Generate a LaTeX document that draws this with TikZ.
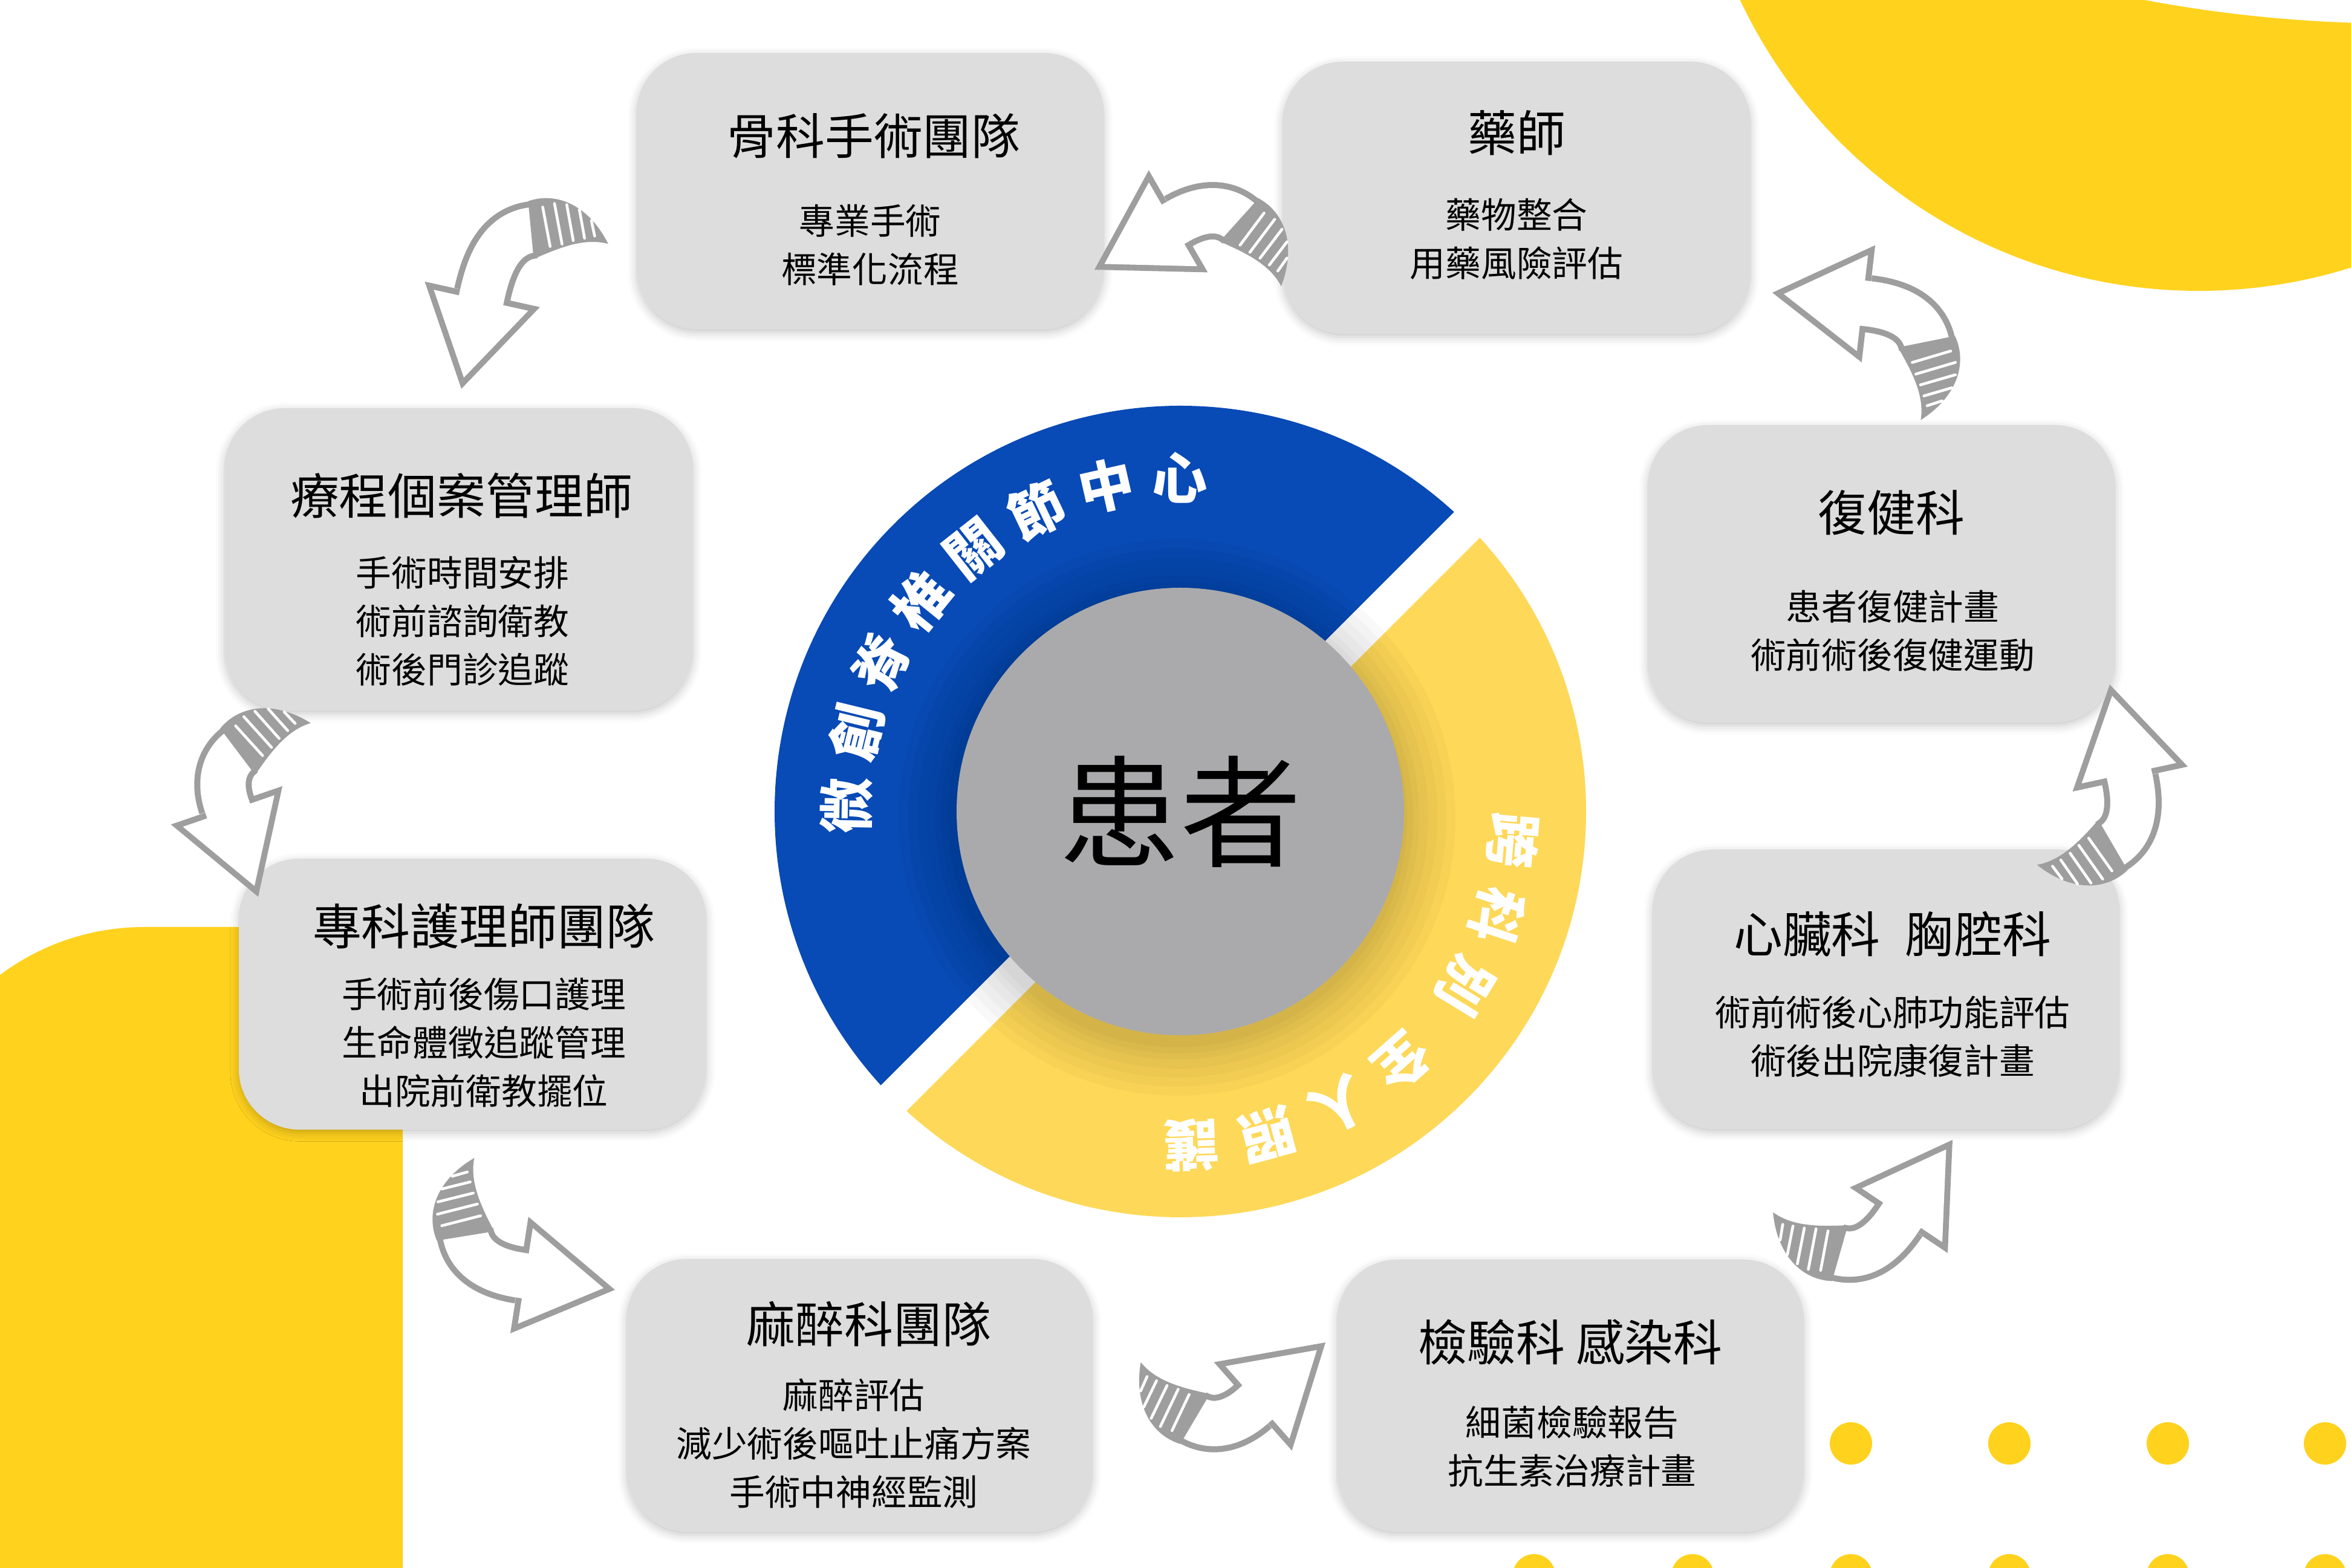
\documentclass[tikz,border=0pt]{standalone}
\usepackage{fontspec}
\newfontfamily\cjk{Noto Sans CJK TC}
\usetikzlibrary{calc,shadows.blur}

\definecolor{cardgray}{RGB}{221,221,221}
\definecolor{arrowgray}{RGB}{158,158,158}
\definecolor{ringblue}{RGB}{8,74,182}
\definecolor{ringyellow}{RGB}{254,216,88}
\definecolor{bgyellow}{RGB}{255,210,30}
\definecolor{hubgray}{RGB}{170,170,172}

\tikzset{
  card/.style={fill=cardgray, rounded corners=1cm, inner sep=0pt,
    blur shadow={shadow xshift=0pt, shadow yshift=-1.5pt, shadow blur radius=4pt, shadow opacity=22}},
  cardtitle/.style={font=\cjk\fontsize{23}{27}\selectfont, inner sep=0pt},
  cardbody/.style={font=\cjk\fontsize{16.7}{22.8}\selectfont, align=center, inner sep=0pt},
  ringchar/.style={font=\cjk\bfseries\fontsize{26}{28}\selectfont, text=white, inner sep=0pt},
  arrowbody/.style={draw=arrowgray, line width=0.95cm},
  arrowhollow/.style={draw=white, line width=0.75cm}
}

% hand drawn arrow: tail, tip, out angle, in angle
\newcommand{\sketcharrow}[4]{%
  \draw[arrowbody] (#1) to[out=#3, in=#4] ($(#2)+(#4:1.6)$);
  \fill[arrowgray, shift={(#2)}, rotate=#4] (0,0) -- (1.6,0.975) -- (1.6,-0.975) -- cycle;
  \draw[arrowhollow] (#1) to[out=#3, in=#4] ($(#2)+(#4:1.6)$) -- ($(#2)+(#4:1.4)$);
  \fill[white, shift={(#2)}, rotate=#4] (0.19,0) -- (1.5,0.8) -- (1.5,-0.8) -- cycle;
  \begin{scope}[shift={(#1)}, rotate=#3]
    \fill[arrowgray] (0.05,-0.48) .. controls (-0.45,-0.6) and (-0.95,-0.3) .. (-1.2,0.35)
      .. controls (-0.8,0.2) and (-0.35,0.35) .. (0.05,0.48) -- cycle;
    \foreach \a/\b/\c/\d in {-0.18/-0.36/-0.24/0.3, -0.38/-0.4/-0.44/0.28, -0.58/-0.36/-0.63/0.24,
        -0.78/-0.26/-0.82/0.22, -0.96/-0.06/-0.99/0.2}
      \draw[white, line width=1.3pt, line cap=round] (\a,\b) -- (\c,\d);
  \end{scope}}

\begin{document}
\begin{tikzpicture}
  \useasboundingbox (0,0) rectangle (38.88,25.92);

  % yellow background shapes
  \begin{scope}
    \clip (0,0) rectangle (38.88,25.92);
    \fill[bgyellow] (36.36,29.49) circle (8.38);
    \fill[white] (39.68,48.24) circle (22.71);
    \fill[bgyellow] (-1.61,-1) -- (-1.61,6.59) arc[start angle=180, end angle=90, radius=4]
      -- (6.66,10.59) -- (6.66,-1) -- cycle;
    \foreach \x in {25.37,27.99,30.61,33.23,35.85,38.45}
      \foreach \y in {2.05,-0.13}
        \fill[bgyellow] (\x,\y) circle (0.35);
  \end{scope}

  % centre ring
  \coordinate (ctr) at (19.52,12.50);
  \fill[ringblue] (ctr) -- ++(45:6.71) arc[start angle=45, end angle=225, radius=6.71] -- cycle;
  \fill[ringyellow] (ctr) -- ++(225:6.71) arc[start angle=225, end angle=405, radius=6.71] -- cycle;
  \draw[white, line width=0.6cm] ($(ctr)+(45:6.9)$) -- ($(ctr)+(225:6.9)$);
  \foreach \r in {4.6,4.45,4.3,4.15,4.0,3.9,3.8}
    \fill[black, opacity=0.025] ($(ctr)+(-0.05,-0.1)$) circle (\r);
  \node[circle, fill=hubgray, minimum size=7.4cm, inner sep=0pt,
    font=\cjk\fontsize{57}{60}\selectfont] (hub) at (ctr) {患者};

  \foreach \ch [count=\i] in {微,創,脊,椎,關,節,中,心}{
    \pgfmathsetmacro{\ang}{179-(\i-1)*12.7}
    \node[ringchar, rotate=\ang-90] (blue\i) at ($(ctr)+(\ang:5.52)$) {\ch};
  }
  \foreach \ch/\ang [count=\i] in {跨/-5,科/-18.2,別/-31.4,全/-48.5,人/-61.7,照/-74.9,護/-88.1}{
    \node[ringchar, rotate=\ang-90] (gold\i) at ($(ctr)+(\ang:5.52)$) {\ch};
  }

  % team cards
  \node[card, minimum width=7.73cm, minimum height=4.57cm] (ortho) at (14.39,22.76) {};
  \node[cardtitle] (orthoT) at (14.45,23.67) {骨科手術團隊};
  \node[cardbody] (orthoB) at (14.39,21.87) {專業手術\\標準化流程};

  \node[card, minimum width=7.74cm, minimum height=4.50cm] (pharm) at (25.08,22.65) {};
  \node[cardtitle] (pharmT) at (25.08,23.72) {藥師};
  \node[cardbody] (pharmB) at (25.08,21.97) {藥物整合\\用藥風險評估};

  \node[card, minimum width=7.75cm, minimum height=5.00cm] (casemgr) at (7.585,16.67) {};
  \node[cardtitle] (casemgrT) at (7.63,17.72) {療程個案管理師};
  \node[cardbody] (casemgrB) at (7.65,15.65) {手術時間安排\\術前諮詢衛教\\術後門診追蹤};

  \node[card, minimum width=7.73cm, minimum height=4.92cm] (rehab) at (31.115,16.43) {};
  \node[cardtitle] (rehabT) at (31.28,17.44) {復健科};
  \node[cardbody] (rehabB) at (31.30,15.49) {患者復健計畫\\術前術後復健運動};

  \node[card, minimum width=7.73cm, minimum height=4.48cm] (nurse) at (7.815,9.48) {};
  \node[cardtitle] (nurseT) at (8.0,10.60) {專科護理師團隊};
  \node[cardbody] (nurseB) at (8.0,8.68) {手術前後傷口護理\\生命體徵追蹤管理\\出院前衛教擺位};

  \node[card, minimum width=7.72cm, minimum height=4.62cm] (cardio) at (31.19,9.56) {};
  \node[cardtitle] (cardioT) at (31.30,10.47) {心臟科\hspace{0.5em}胸腔科};
  \node[cardbody] (cardioB) at (31.30,8.78) {術前術後心肺功能評估\\術後出院康復計畫};

  \node[card, minimum width=7.71cm, minimum height=4.51cm] (anes) at (14.215,2.845) {};
  \node[cardtitle] (anesT) at (14.37,4.02) {麻醉科團隊};
  \node[cardbody] (anesB) at (14.12,2.05) {麻醉評估\\減少術後嘔吐止痛方案\\手術中神經監測};

  \node[card, minimum width=7.72cm, minimum height=4.50cm] (lab) at (25.97,2.84) {};
  \node[cardtitle] (labT) at (25.97,3.72) {檢驗科 感染科};
  \node[cardbody] (labB) at (26.0,2.0) {細菌檢驗報告\\抗生素治療計畫};

  % arrow ends between the cards
  \coordinate (a1s) at (8.83,22.12);  \coordinate (a1e) at (7.63,19.49);
  \coordinate (a2s) at (20.53,22.25); \coordinate (a2e) at (18.10,21.46);
  \coordinate (a3s) at (31.87,20.22); \coordinate (a3e) at (29.31,21.08);
  \coordinate (a4s) at (34.90,11.92); \coordinate (a4e) at (34.89,14.60);
  \coordinate (a5s) at (30.38,5.21);  \coordinate (a5e) at (32.29,7.07);
  \coordinate (a6s) at (19.72,2.48);  \coordinate (a6e) at (21.92,3.72);
  \coordinate (a7s) at (7.69,5.53);   \coordinate (a7e) at (10.17,4.59);
  \coordinate (a8s) at (3.97,13.52);  \coordinate (a8e) at (4.27,11.09);

  \sketcharrow{a1s}{a1e}{185.5}{77.5}
  \sketcharrow{a2s}{a2e}{138}{30}
  \sketcharrow{a3s}{a3e}{101.4}{-6.6}
  \sketcharrow{a4s}{a4e}{30.2}{-77.8}
  \sketcharrow{a5s}{a5e}{-15.8}{-123.8}
  \sketcharrow{a6s}{a6e}{-30.6}{221.4}
  \sketcharrow{a7s}{a7e}{-80.8}{171.2}
  \sketcharrow{a8s}{a8e}{217}{109}

\end{tikzpicture}
\end{document}
